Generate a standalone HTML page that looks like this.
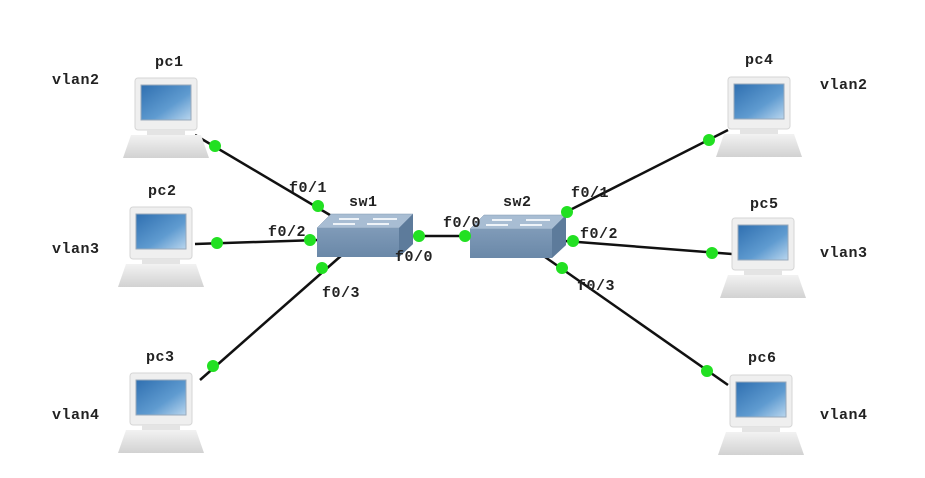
<!DOCTYPE html>
<html><head><meta charset="utf-8"><style>
html,body{margin:0;padding:0;background:#fff;}
text{font-family:"Liberation Mono",monospace;font-weight:bold;font-size:15px;fill:#222;letter-spacing:0.5px;}
</style></head><body>
<svg width="925" height="473" viewBox="0 0 925 473" xmlns="http://www.w3.org/2000/svg">
<defs>
<linearGradient id="scr" x1="0" y1="0" x2="1" y2="1">
<stop offset="0" stop-color="#2f6fb0"/><stop offset="0.6" stop-color="#5f9bd0"/><stop offset="1" stop-color="#b9d6ee"/></linearGradient>
<linearGradient id="base" x1="0" y1="0" x2="0" y2="1">
<stop offset="0" stop-color="#f2f2f2"/><stop offset="1" stop-color="#d2d2d2"/></linearGradient>
<linearGradient id="swf" x1="0" y1="0" x2="0" y2="1">
<stop offset="0" stop-color="#8aa4c0"/><stop offset="1" stop-color="#6a88a8"/></linearGradient>
<g id="pc">
<rect x="0" y="0" width="62" height="52" rx="3" fill="#efefef" stroke="#d6d6d6"/>
<rect x="6" y="7" width="50" height="35" fill="url(#scr)" stroke="#9ab"/>
<rect x="12" y="52" width="38" height="5" fill="#e4e4e4"/>
<polygon points="-4,57 66,57 74,80 -12,80" fill="url(#base)"/>
</g>
<g id="sw">
<polygon points="14,0 96,0 96,30 82,43 0,43 0,14" fill="url(#swf)"/>
<polygon points="14,0 96,0 82,14 0,14" fill="#a8bdd3" stroke="#7e97b2" stroke-width="0.5"/>
<polygon points="82,14 96,0 96,30 82,43" fill="#5d7b9b"/>
<g stroke="#eef3f8" stroke-width="2" fill="none">
<line x1="22" y1="5" x2="42" y2="5"/><line x1="56" y1="5" x2="80" y2="5"/>
<line x1="16" y1="10" x2="38" y2="10"/><line x1="50" y1="10" x2="72" y2="10"/>
</g>
</g>
</defs>
<g stroke="#111" stroke-width="2.5">
<line x1="195" y1="135" x2="335" y2="218"/>
<line x1="195" y1="244" x2="318" y2="240"/>
<line x1="200" y1="380" x2="342" y2="255"/>
<line x1="412" y1="236" x2="472" y2="236"/>
<line x1="570" y1="210" x2="728" y2="130"/>
<line x1="565" y1="241" x2="732" y2="254"/>
<line x1="545" y1="257" x2="728" y2="385"/>
</g>
<use href="#pc" x="135" y="78"/>
<use href="#pc" x="130" y="207"/>
<use href="#pc" x="130" y="373"/>
<use href="#pc" x="728" y="77"/>
<use href="#pc" x="732" y="218"/>
<use href="#pc" x="730" y="375"/>
<use href="#sw" x="317" y="214"/>
<use href="#sw" x="470" y="215"/>
<g fill="#22e022">
<circle cx="215" cy="146" r="6"/><circle cx="318" cy="206" r="6"/>
<circle cx="217" cy="243" r="6"/><circle cx="310" cy="240" r="6"/>
<circle cx="213" cy="366" r="6"/><circle cx="322" cy="268" r="6"/>
<circle cx="419" cy="236" r="6"/><circle cx="465" cy="236" r="6"/>
<circle cx="709" cy="140" r="6"/><circle cx="567" cy="212" r="6"/>
<circle cx="712" cy="253" r="6"/><circle cx="573" cy="241" r="6"/>
<circle cx="707" cy="371" r="6"/><circle cx="562" cy="268" r="6"/>
</g>
<text x="52" y="84">vlan2</text>
<text x="52" y="253">vlan3</text>
<text x="52" y="419">vlan4</text>
<text x="820" y="89">vlan2</text>
<text x="820" y="257">vlan3</text>
<text x="820" y="419">vlan4</text>
<text x="155" y="66">pc1</text>
<text x="148" y="195">pc2</text>
<text x="146" y="361">pc3</text>
<text x="745" y="64">pc4</text>
<text x="750" y="208">pc5</text>
<text x="748" y="362">pc6</text>
<text x="349" y="206">sw1</text>
<text x="503" y="206">sw2</text>
<text x="289" y="192">f0/1</text>
<text x="268" y="236">f0/2</text>
<text x="322" y="297">f0/3</text>
<text x="395" y="261">f0/0</text>
<text x="443" y="227">f0/0</text>
<text x="571" y="197">f0/1</text>
<text x="580" y="238">f0/2</text>
<text x="577" y="290">f0/3</text>
</svg>
</body></html>
